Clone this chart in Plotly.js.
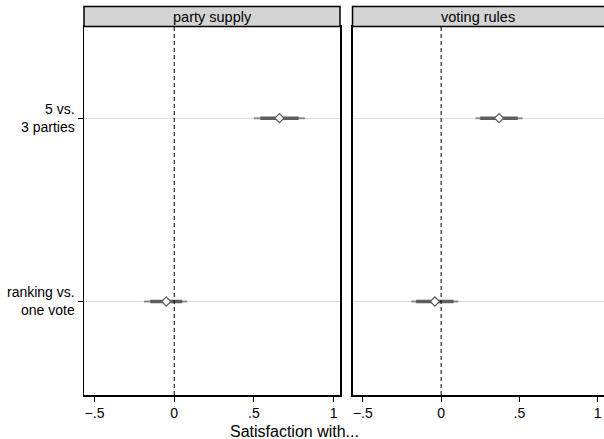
<!DOCTYPE html>
<html><head><meta charset="utf-8">
<script src="https://cdn.plot.ly/plotly-3.0.1.min.js"></script>
<style>html,body{margin:0;padding:0;background:#fff}#chart{width:604px;height:439px}</style>
</head><body><div id="chart"></div>
<script>
// Categories (y positions 1 = bottom, 2 = top)
var categoryPos = [1, 2];
var categoryLabels = ["ranking vs.<br>one vote", "5 vs.<br>3 parties"];
var panelTitles = ["party supply", "voting rules"];
// Panel 1: party supply
var partyEst  = [-0.05, 0.66];
var partyLo95 = [-0.19, 0.50];
var partyHi95 = [0.08, 0.82];
var partyLo90 = [-0.15, 0.54];
var partyHi90 = [0.05, 0.78];
// Panel 2: voting rules
var votingEst  = [-0.04, 0.37];
var votingLo95 = [-0.19, 0.22];
var votingHi95 = [0.11, 0.52];
var votingLo90 = [-0.16, 0.25];
var votingHi90 = [0.08, 0.49];
// x tick labels
var xTickVals = [-0.5, 0, 0.5, 1];
var xTickText = ["\u2212.5", "0", ".5", "1"];

var W = 604, H = 439;
var font = "Liberation Sans, Arial, Helvetica, sans-serif";

function ciTraces(est, lo, hi, xa, ya, color, thick) {
  var tr = [];
  for (var i = 0; i < est.length; i++) {
    tr.push({type: "scatter", mode: "lines", x: [lo[i], hi[i]], y: [categoryPos[i], categoryPos[i]],
      xaxis: xa, yaxis: ya, line: {color: color, width: thick}, hoverinfo: "skip", showlegend: false});
  }
  return tr;
}
function pointTrace(est, xa, ya) {
  return {type: "scatter", mode: "markers", x: est, y: categoryPos, xaxis: xa, yaxis: ya,
    marker: {symbol: "diamond", size: 7, color: "#ffffff", line: {color: "#5a5a5a", width: 1.2}}, showlegend: false};
}

var data = [].concat(
  ciTraces(partyEst, partyLo95, partyHi95, "x", "y", "#8c8c8c", 2),
  ciTraces(partyEst, partyLo90, partyHi90, "x", "y", "#5e5e5e", 3.5),
  [pointTrace(partyEst, "x", "y")],
  ciTraces(votingEst, votingLo95, votingHi95, "x2", "y2", "#8c8c8c", 2),
  ciTraces(votingEst, votingLo90, votingHi90, "x2", "y2", "#5e5e5e", 3.5),
  [pointTrace(votingEst, "x2", "y2")]
);

var px = function(v){return v / W;};
var py = function(v){return 1 - v / H;};
var d1 = [px(84), px(340)], d2 = [px(352.5), 1];
var yd = [py(395), py(26.5)];

function xaxisCfg(domain, anchor) {
  return {domain: domain, anchor: anchor, range: [-0.566, 1.04], tickvals: xTickVals, ticktext: xTickText,
    ticks: "outside", ticklen: 5, tickcolor: "#000", tickwidth: 1, showgrid: false, zeroline: false,
    showline: true, linecolor: "#000", linewidth: 1.5, mirror: true,
    tickfont: {family: font, size: 14, color: "#000"}};
}
function yaxisCfg(anchor, labels) {
  return {domain: yd, anchor: anchor, range: [0.49, 2.5], tickvals: categoryPos,
    ticktext: labels ? categoryLabels : ["", ""], ticks: labels ? "outside" : "", ticklen: 5, tickcolor: "#000",
    showgrid: true, gridcolor: "#dcdcdc", gridwidth: 1, zeroline: false,
    showline: true, linecolor: "#000", linewidth: 1.5, mirror: true,
    tickfont: {family: font, size: 14, color: "#000"}};
}

var shapes = [
  {type: "line", xref: "x", yref: "y domain", x0: 0, x1: 0, y0: 0, y1: 1, line: {color: "#000", width: 1, dash: "4px,3px"}},
  {type: "line", xref: "x2", yref: "y2 domain", x0: 0, x1: 0, y0: 0, y1: 1, line: {color: "#000", width: 1, dash: "4px,3px"}},
  {type: "rect", xref: "paper", yref: "paper", x0: d1[0], x1: d1[1], y0: py(26.5), y1: py(6.5), fillcolor: "#d4d4d4", line: {color: "#000", width: 1.5}},
  {type: "rect", xref: "paper", yref: "paper", x0: d2[0], x1: 1.01, y0: py(26.5), y1: py(6.5), fillcolor: "#d4d4d4", line: {color: "#000", width: 1.5}}
];
var annotations = [
  {text: panelTitles[0], xref: "paper", yref: "paper", x: (d1[0] + d1[1]) / 2, y: py(16.5), showarrow: false, font: {family: font, size: 14.5, color: "#000"}, xanchor: "center", yanchor: "middle"},
  {text: panelTitles[1], xref: "paper", yref: "paper", x: (d2[0] + 1) / 2, y: py(16.5), showarrow: false, font: {family: font, size: 14.5, color: "#000"}, xanchor: "center", yanchor: "middle"},
  {text: "Satisfaction with...", xref: "paper", yref: "paper", x: px(294), y: py(431), showarrow: false, font: {family: font, size: 16, color: "#000"}, xanchor: "center", yanchor: "middle"}
];

var layout = {width: W, height: H, margin: {l: 0, r: 0, t: 0, b: 0}, paper_bgcolor: "#fff", plot_bgcolor: "#fff",
  font: {family: font}, showlegend: false,
  xaxis: xaxisCfg(d1, "y"), xaxis2: xaxisCfg(d2, "y2"),
  yaxis: yaxisCfg("x", true), yaxis2: yaxisCfg("x2", false),
  shapes: shapes, annotations: annotations};

Plotly.newPlot("chart", data, layout, {displayModeBar: false, staticPlot: true});
</script></body></html>
